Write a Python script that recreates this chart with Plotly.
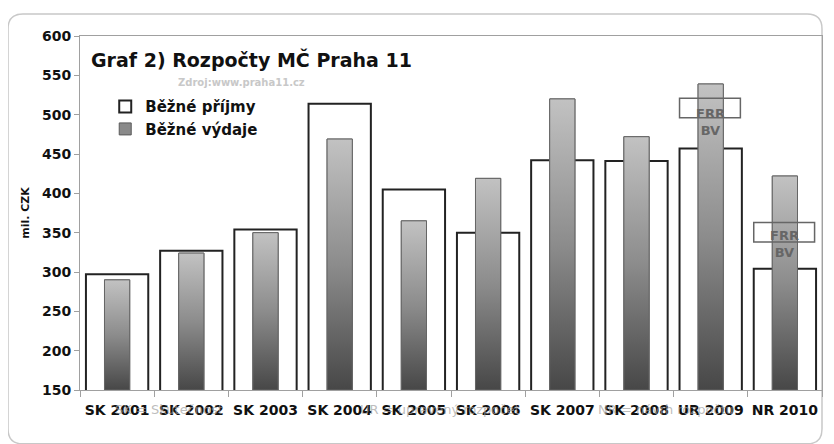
import plotly.graph_objects as go

categories = ["SK 2001", "SK 2002", "SK 2003", "SK 2004", "SK 2005",
              "SK 2006", "SK 2007", "SK 2008", "UR 2009", "NR 2010"]
prijmy = [297, 327, 354, 514, 405, 350, 442, 441, 457, 304]   # Běžné příjmy
vydaje = [290, 324, 350, 469, 365, 419, 520, 472, 539, 422]   # Běžné výdaje
y_ticks = [150, 200, 250, 300, 350, 400, 450, 500, 550, 600]

Y_MIN, Y_MAX = 150, 600
W_IN, W_EX = 0.84, 0.34
FONT = "DejaVu Sans"

xs = list(range(len(categories)))

fig = go.Figure()

fig.add_trace(go.Bar(
    x=xs, y=prijmy, width=W_IN, name="Běžné příjmy",
    marker=dict(color="white", line=dict(color="#222222", width=2)),
))
fig.add_trace(go.Bar(
    x=xs, y=vydaje, width=W_EX, name="Běžné výdaje",
    marker=dict(color="#8a8a8a", line=dict(color="#5a5a5a", width=1)),
))

# gradient overlay for the expenditure bars
for i, v in zip(xs, vydaje):
    x0, x1 = i - W_EX / 2, i + W_EX / 2
    fig.add_trace(go.Scatter(
        x=[x0, x1, x1, x0, x0], y=[Y_MIN, Y_MIN, v, v, Y_MIN],
        mode="lines", fill="toself", showlegend=False, hoverinfo="skip",
        line=dict(color="#666666", width=1),
        fillgradient=dict(type="vertical",
                          colorscale=[[0, "#474747"], [0.5, "#8c8c8c"], [1, "#c2c2c2"]]),
    ))

# the page body adds an 8px offset, so the figure is 8px smaller than the window
fig.update_layout(
    width=826, height=436,
    margin=dict(l=72, r=12, t=28, b=54, autoexpand=False),
    barmode="overlay",
    paper_bgcolor="white", plot_bgcolor="white",
    font=dict(family=FONT, color="#222222"),
    showlegend=True,
    legend=dict(x=0.034, y=0.847, xanchor="left", yanchor="top",
                bgcolor="rgba(0,0,0,0)",
                font=dict(family=FONT, size=15, color="#111111", weight="bold"),
                tracegroupgap=0, itemwidth=30),
    xaxis=dict(
        automargin=False,
        range=[-0.5, len(categories) - 0.5],
        tickmode="array", tickvals=xs, ticktext=categories,
        ticks="", ticklabelstandoff=7, showgrid=False, zeroline=False,
        showline=True, linecolor="#a0a0a0", linewidth=1, mirror=True,
        tickfont=dict(family=FONT, size=14, color="#111111", weight="bold"),
        minor=dict(tickmode="array",
                   tickvals=[i - 0.5 for i in range(len(categories) + 1)],
                   ticks="outside", ticklen=6, tickcolor="#a0a0a0", showgrid=False),
    ),
    yaxis=dict(
        automargin=False,
        range=[Y_MIN, Y_MAX], tickmode="array", tickvals=y_ticks,
        ticks="outside", ticklen=5, tickcolor="#a0a0a0",
        showgrid=False, zeroline=False,
        showline=True, linecolor="#a0a0a0", linewidth=1, mirror=True,
        tickfont=dict(family=FONT, size=14, color="#111111", weight="bold"),
        title=dict(text="mil. CZK", standoff=10,
                   font=dict(family=FONT, size=11, color="#111111", weight="bold")),
    ),
)

# outer rounded frame (paper coordinates)
x0, x1, y0, y1 = -0.097, 1.0, -0.152, 1.062
rx, ry = 0.02, 0.042
path = (f"M {x0+rx},{y1} L {x1-rx},{y1} Q {x1},{y1} {x1},{y1-ry} "
        f"L {x1},{y0+ry} Q {x1},{y0} {x1-rx},{y0} L {x0+rx},{y0} "
        f"Q {x0},{y0} {x0},{y0+ry} L {x0},{y1-ry} Q {x0},{y1} {x0+rx},{y1} Z")
fig.add_shape(type="path", path=path, xref="paper", yref="paper",
              line=dict(color="#c8c8c8", width=1.5), layer="below")

# title & source
fig.add_annotation(text="Graf 2) Rozpočty MČ Praha 11", xref="paper", yref="paper",
                   x=0.012, y=0.935, xanchor="left", yanchor="middle", showarrow=False,
                   font=dict(family=FONT, size=19, color="#111111", weight="bold"))
fig.add_annotation(text="Zdroj:www.praha11.cz", xref="paper", yref="paper",
                   x=0.217, y=0.868, xanchor="center", yanchor="middle", showarrow=False,
                   font=dict(family=FONT, size=10, color="#c8c8c8", weight="bold"))

# FRR / BV boxes
for cx, ybox, ytxt in [(8, (496, 521), 491), (9, (338, 363), 335)]:
    fig.add_shape(type="rect", x0=cx - 0.42, x1=cx + 0.4, y0=ybox[0], y1=ybox[1],
                  line=dict(color="#666666", width=1.5), fillcolor="rgba(0,0,0,0)")
    fig.add_annotation(text="FRR<br>BV", x=cx, y=ytxt, showarrow=False,
                       xanchor="center", yanchor="middle",
                       font=dict(family=FONT, size=13, color="#666666", weight="bold"))

# note that sits behind the x labels in the original
for txt, px in [("SK = Skutečnost", 0.12), ("UR = upravený rozpočet", 0.485),
                ("NR = návrh rozpočtu", 0.79)]:
    fig.add_annotation(text=txt, xref="paper", yref="paper", x=px, y=-0.054,
                       xanchor="center", yanchor="middle", showarrow=False,
                       font=dict(family=FONT, size=13, color="rgba(160,160,160,0.7)"))

fig.write_html("out.html")
